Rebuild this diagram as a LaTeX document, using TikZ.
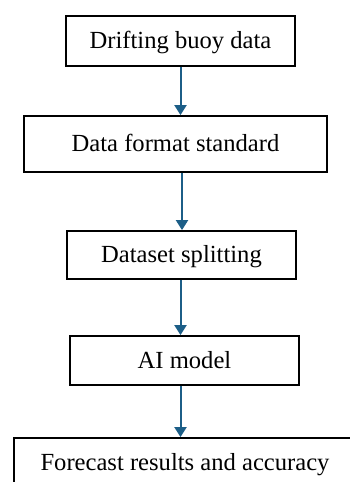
\documentclass[tikz,border=0pt]{standalone}
\usepackage{fontspec}
\setmainfont{Liberation Serif}
\usetikzlibrary{arrows.meta,calc}
\definecolor{flowblue}{RGB}{28,94,135}

\begin{document}
\begin{tikzpicture}[x=1pt,y=-1pt,
        stage/.style={draw=black, line width=1.8pt, fill=white, inner sep=0pt,
          font=\fontsize{24.6}{28}\selectfont, text height=17pt, text depth=2pt},
        flow/.style={draw=flowblue, line width=2pt,
          -{Triangle[width=12pt,length=10pt]}}]
        \useasboundingbox (0,0) rectangle (350,482);
        \clip (0,0) rectangle (350,482);
        % stages
        \node[stage, minimum width=229pt, minimum height=50pt] (Buoy) at (180.5,41) {Drifting buoy data};
        \node[stage, minimum width=303pt, minimum height=56pt] (Format) at (175.5,144) {Data format standard};
        \node[stage, minimum width=229pt, minimum height=48pt] (Split) at (181.5,255) {Dataset splitting};
        \node[stage, minimum width=229pt, minimum height=49pt] (Model) at (184.5,360.5) {AI model};
        \node[stage, minimum width=342pt, minimum height=50pt] (Result) at (185,463) {Forecast results and accuracy};
        % arrows
        \draw[flow] (Buoy.south) -- (Buoy.south |- Format.north);
        \draw[flow] ($(Format.south -| Buoy)+(1.5,0)$) -- ($(Split.north -| Buoy)+(1.5,0)$);
        \draw[flow] (Split.south -| Buoy) -- (Model.north -| Buoy);
        \draw[flow] (Model.south -| Buoy) -- (Result.north -| Buoy);
      \end{tikzpicture}
\end{document}
